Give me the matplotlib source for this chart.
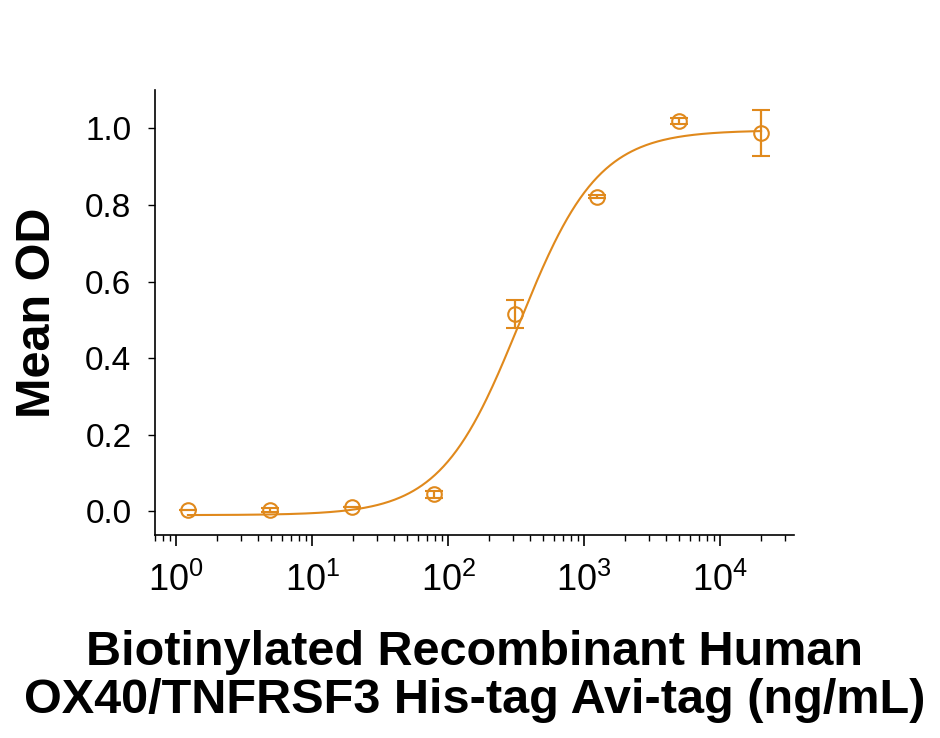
import numpy as np
import matplotlib
matplotlib.use("Agg")
import matplotlib.pyplot as plt
from matplotlib.ticker import LogLocator, NullFormatter

plt.rcParams['font.family'] = ['Liberation Sans', 'DejaVu Sans']
plt.rcParams['mathtext.fontset'] = 'custom'
plt.rcParams['mathtext.rm'] = 'Liberation Sans'
plt.rcParams['mathtext.it'] = 'Liberation Sans'
plt.rcParams['mathtext.bf'] = 'Liberation Sans:bold'

# Data (ng/mL vs mean OD)
conc = [1.22, 4.88, 19.53, 78.13, 312.5, 1250, 5000, 20000]
mean_od = [0.003, 0.003, 0.011, 0.044, 0.516, 0.822, 1.020, 0.987]
err = [0.0, 0.005, 0.0, 0.010, 0.037, 0.005, 0.008, 0.060]

# 4PL fit parameters
fit_bottom = -0.01
fit_top = 0.995
fit_ec50 = 335.0
fit_hill = 1.5

color = '#E0891C'

fig = plt.figure(figsize=(9.4, 7.38), dpi=100)
ax = fig.add_axes([0.165, 0.275, 0.68, 0.603])

xc = np.logspace(np.log10(conc[0]), np.log10(conc[-1]), 400)
yc = fit_bottom + (fit_top - fit_bottom) / (1 + (fit_ec50 / xc) ** fit_hill)
ax.plot(xc, yc, color=color, lw=1.5)

ax.errorbar(conc, mean_od, yerr=err, fmt='o', mfc='none', mec=color, ms=10.5,
            mew=1.5, ecolor=color, elinewidth=1.6, capsize=6.5, capthick=1.6)

ax.set_xscale('log')
ax.set_xlim(0.70, 35100)
ax.set_ylim(-0.062, 1.1)
ax.set_yticks([0.0, 0.2, 0.4, 0.6, 0.8, 1.0])
ax.set_yticklabels(['0.0', '0.2', '0.4', '0.6', '0.8', '1.0'])
ax.xaxis.set_major_locator(LogLocator(base=10, numticks=10))
ax.xaxis.set_minor_locator(LogLocator(base=10, subs=np.arange(2, 10), numticks=20))
ax.xaxis.set_minor_formatter(NullFormatter())

for s in ['top', 'right']:
    ax.spines[s].set_visible(False)
for s in ['left', 'bottom']:
    ax.spines[s].set_linewidth(1.2)

ax.tick_params(axis='y', which='major', direction='out', length=5, width=1, labelsize=24, pad=12)
ax.tick_params(axis='x', which='major', direction='out', length=8, width=1.2, labelsize=26, pad=12)
ax.tick_params(axis='x', which='minor', direction='out', length=4, width=1)

ax.set_ylabel('Mean OD', fontsize=35, fontweight='bold', labelpad=18)
ax.set_xlabel('Biotinylated Recombinant Human\nOX40/TNFRSF3 His-tag Avi-tag (ng/mL)',
              fontsize=35, fontweight='bold', labelpad=22, linespacing=1.1)

fig.savefig('out.png', dpi=100, facecolor='white')
